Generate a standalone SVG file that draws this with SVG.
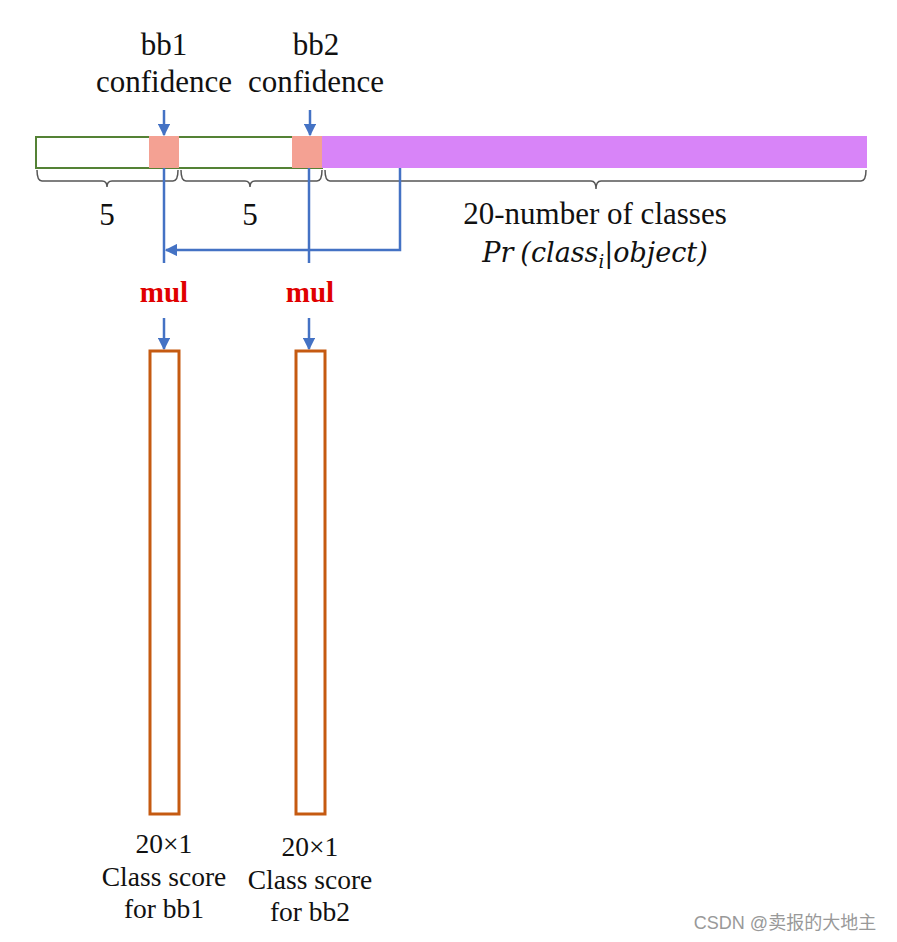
<svg xmlns="http://www.w3.org/2000/svg" width="897" height="942" viewBox="0 0 897 942">
<defs>
<style>
.t{font-family:"Liberation Serif","Times New Roman",serif;fill:#111;text-anchor:middle}
.big{font-size:31px}
.sm{font-size:27.5px}
.mul{font-family:"Liberation Serif",serif;font-weight:bold;font-size:29px;fill:#E00000;text-anchor:middle}
.blue{stroke:#4472C4;stroke-width:2.5;fill:none}
.brace{stroke:#555;stroke-width:1.5;fill:none}
.col{fill:#fff;stroke:#C55A11;stroke-width:3}
</style>
<marker id="ah" viewBox="0 0 10 10" refX="9" refY="5" markerWidth="5" markerHeight="5" orient="auto" markerUnits="strokeWidth">
<path d="M0,0 L10,5 L0,10 z" fill="#4472C4"/>
</marker>
</defs>
<rect width="897" height="942" fill="#fff"/>
<g id="labels-top">
<text class="t big" x="164" y="55">bb1</text>
<text class="t big" x="164" y="92">confidence</text>
<text class="t big" x="316" y="55">bb2</text>
<text class="t big" x="316" y="92">confidence</text>
</g>
<g id="vector">
<rect x="36" y="137" width="286" height="31" fill="#fff" stroke="#548235" stroke-width="2"/>
<rect x="149" y="136" width="30" height="32" fill="#F4A193"/>
<rect x="292" y="136" width="30" height="32" fill="#F4A193"/>
<rect x="322" y="136" width="545" height="32" fill="#D884F8"/>
</g>
<g id="braces">
<path class="brace" d="M37,170 Q37,181 42,181 L102,181 Q107,181 107,187 Q107,181 112,181 L173,181 Q178,181 178,170"/>
<path class="brace" d="M181,170 Q181,181 186,181 L245,181 Q250,181 250,187 Q250,181 255,181 L317,181 Q322,181 322,170"/>
<path class="brace" d="M325,170 Q325,181 330,181 L591,181 Q596,181 596,189 Q596,181 601,181 L861,181 Q866,181 866,170"/>
</g>
<g id="labels-mid">
<text class="t big" x="107" y="225">5</text>
<text class="t big" x="250" y="225">5</text>
<text class="t big" x="595" y="224">20-number of classes</text>
<text x="595" y="262" font-style="italic" font-family="DejaVu Serif, serif" font-size="27" fill="#111" text-anchor="middle">Pr<tspan dx="7">(class</tspan><tspan font-size="18" dy="6">i</tspan><tspan dy="-6">|object)</tspan></text>
</g>
<g id="connectors">
<line class="blue" x1="164" y1="110" x2="164" y2="135" marker-end="url(#ah)"/>
<line class="blue" x1="310" y1="110" x2="310" y2="135" marker-end="url(#ah)"/>
<line class="blue" x1="164" y1="168" x2="164" y2="263"/>
<line class="blue" x1="309" y1="168" x2="309" y2="263"/>
<polyline class="blue" points="400,168 400,250 166,250" marker-end="url(#ah)"/>
<line class="blue" x1="164" y1="318" x2="164" y2="349" marker-end="url(#ah)"/>
<line class="blue" x1="309" y1="318" x2="309" y2="349" marker-end="url(#ah)"/>
</g>
<g id="mul1"><text class="mul" x="164" y="302">mul</text></g>
<g id="mul2"><text class="mul" x="310" y="302">mul</text></g>
<g id="score1">
<rect class="col" x="150" y="351" width="29" height="463"/>
<text class="t sm" x="164" y="853">20×1</text>
<text class="t sm" x="164" y="886">Class score</text>
<text class="t sm" x="164" y="918">for bb1</text>
</g>
<g id="score2">
<rect class="col" x="296" y="351" width="29" height="463"/>
<text class="t sm" x="310" y="856">20×1</text>
<text class="t sm" x="310" y="889">Class score</text>
<text class="t sm" x="310" y="921">for bb2</text>
</g>
<text x="785" y="929" font-family="Liberation Sans, 'Noto Sans CJK SC', sans-serif" font-size="18" fill="#999" text-anchor="middle">CSDN @卖报的大地主</text>
</svg>
